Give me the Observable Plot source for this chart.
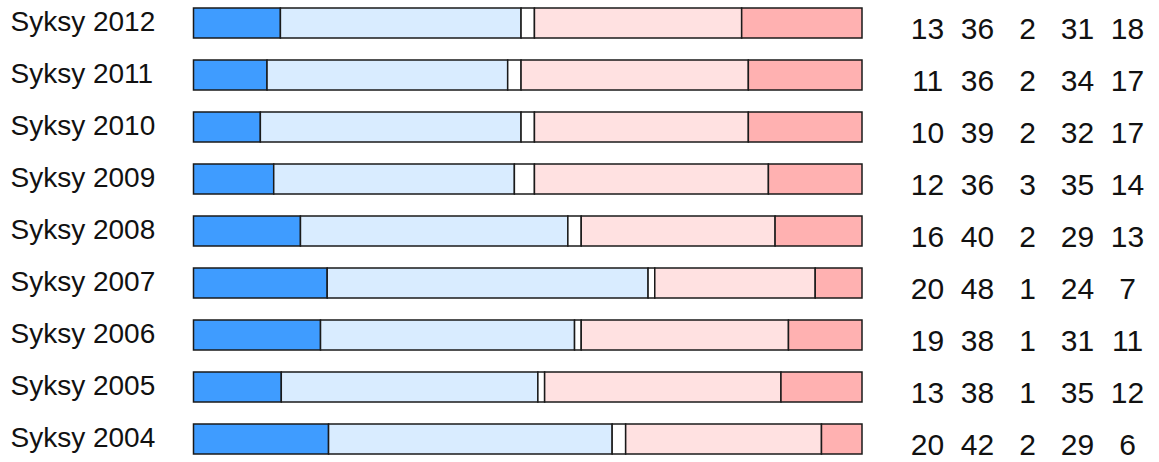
<!DOCTYPE html>
<html>
<head>
<meta charset="utf-8">
<script src="https://cdn.jsdelivr.net/npm/d3@7"></script>
<script src="https://cdn.jsdelivr.net/npm/@observablehq/plot@0.6"></script>
<style>
  html, body { margin: 0; padding: 0; background: #fff; }
  #chart { width: 1159px; height: 462px; }
</style>
</head>
<body>
<div id="chart"></div>
<script>
const years = ["Syksy 2012", "Syksy 2011", "Syksy 2010", "Syksy 2009", "Syksy 2008",
               "Syksy 2007", "Syksy 2006", "Syksy 2005", "Syksy 2004"];
const seriesNames = ["s1", "s2", "s3", "s4", "s5"];
const seriesColors = ["#3f9cff", "#d9ecff", "#ffffff", "#ffe1e1", "#ffb1b1"];
const s1 = [13, 11, 10, 12, 16, 20, 19, 13, 20];
const s2 = [36, 36, 39, 36, 40, 48, 38, 38, 42];
const s3 = [2, 2, 2, 3, 2, 1, 1, 1, 2];
const s4 = [31, 34, 32, 35, 29, 24, 31, 35, 29];
const s5 = [18, 17, 17, 14, 13, 7, 11, 12, 6];

const seriesValues = [s1, s2, s3, s4, s5];
const rows = [];
years.forEach((year, i) => {
  seriesNames.forEach((name, j) => {
    rows.push({year, series: name, col: j, value: seriesValues[j][i]});
  });
});

const numberMarks = seriesNames.map((name, j) =>
  Plot.text(rows.filter(d => d.series === name), {
    y: "year",
    text: d => String(d.value),
    frameAnchor: "left",
    textAnchor: "middle",
    dx: 927 + 50 * j,
    dy: 6,
    fontSize: 30,
    fill: "#111"
  })
);

const chart = Plot.plot({
  width: 1159,
  height: 462,
  margin: 0,
  style: {fontFamily: "'Liberation Sans', Arial, sans-serif", background: "#fff"},
  x: {domain: [0, 1], range: [193.5, 862], axis: null},
  y: {type: "band", domain: years, range: [5, 457], paddingInner: 0.431, paddingOuter: 0, axis: null},
  color: {domain: seriesNames, range: seriesColors},
  marks: [
    Plot.barX(rows, Plot.stackX({
      y: "year",
      x: "value",
      fill: "series",
      offset: "normalize",
      order: null,
      stroke: "#1a1a1a",
      strokeWidth: 1.5
    })),
    Plot.text(years, {
      y: d => d,
      text: d => d,
      frameAnchor: "left",
      textAnchor: "start",
      dx: 10,
      dy: -1.5,
      fontSize: 28,
      fill: "#111"
    }),
    ...numberMarks
  ]
});
document.getElementById("chart").appendChild(chart);
</script>
</body>
</html>
